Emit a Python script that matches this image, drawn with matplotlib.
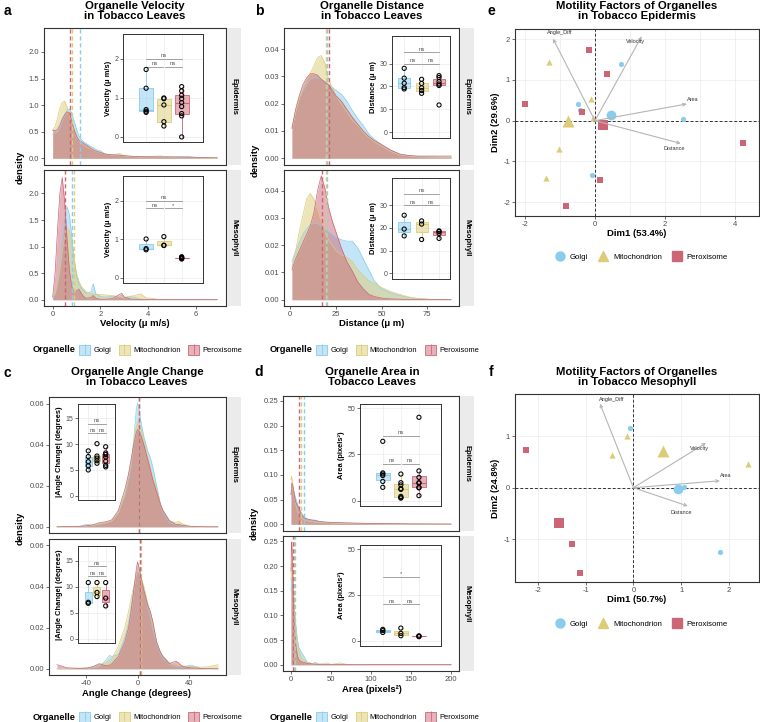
import matplotlib
matplotlib.use("Agg")
import matplotlib.pyplot as plt
import numpy as np
from matplotlib.colors import to_rgba
from matplotlib.lines import Line2D
from matplotlib.patches import Patch

plt.rcParams['font.family'] = ['Liberation Sans', 'DejaVu Sans']
plt.rcParams['axes.unicode_minus'] = False

organelles = ['Golgi', 'Mitochondrion', 'Peroxisome']
colors = ['#88CCEE', '#DDCC77', '#CC6677']

# -- density curves (Golgi, Mitochondrion, Peroxisome) --
vel_x = [0, 0.1, 0.2, 0.3, 0.4, 0.5, 0.6, 0.7, 0.8, 0.9, 1.0, 1.1, 1.2, 1.3, 1.4, 1.6, 1.7,
         1.8, 2.0, 2.2, 2.5, 2.8, 2.9, 3.0, 3.3, 3.6, 3.7, 3.9, 4.5, 5.0, 5.6, 6.0, 6.9]
vel_epi_golgi = [0.45, 0.47, 0.50, 0.58, 0.70, 0.82, 0.90, 0.93, 0.85, 0.70, 0.55, 0.42, 0.35, 0.31, 0.28, 0.22, 0.20,
                 0.17, 0.14, 0.08, 0.06, 0.05, 0.045, 0.04, 0.035, 0.03, 0.03, 0.03, 0.025, 0.025, 0.035, 0.02, 0.0]
vel_epi_mito = [0.52, 0.60, 0.75, 0.95, 1.05, 1.07, 0.97, 0.80, 0.66, 0.53, 0.40, 0.33, 0.29, 0.25, 0.22, 0.17, 0.15,
                0.13, 0.10, 0.08, 0.06, 0.09, 0.07, 0.05, 0.03, 0.025, 0.025, 0.03, 0.045, 0.02, 0.01, 0.005, 0.0]
vel_epi_perox = [0.53, 0.52, 0.54, 0.62, 0.74, 0.82, 0.87, 0.86, 0.70, 0.54, 0.42, 0.34, 0.31, 0.28, 0.25, 0.19, 0.16,
                 0.14, 0.11, 0.08, 0.065, 0.06, 0.055, 0.05, 0.04, 0.03, 0.03, 0.028, 0.025, 0.025, 0.022, 0.018, 0.012]
vel_mes_golgi = [0.03, 0.10, 0.30, 0.60, 1.10, 1.50, 1.75, 1.60, 1.20, 0.75, 0.45, 0.30, 0.22, 0.17, 0.12, 0.15, 0.30,
                 0.12, 0.06, 0.05, 0.06, 0.05, 0.04, 0.03, 0.06, 0.02, 0.01, 0.005, 0.0, 0.0, 0.0, 0.0, 0.0]
vel_mes_mito = [0.05, 0.12, 0.30, 0.55, 0.90, 1.20, 1.35, 1.30, 1.05, 0.75, 0.50, 0.35, 0.25, 0.20, 0.15, 0.12, 0.11,
                0.10, 0.10, 0.09, 0.08, 0.06, 0.05, 0.05, 0.07, 0.10, 0.11, 0.04, 0.005, 0.0, 0.0, 0.0, 0.0]
vel_mes_perox = [0.06, 0.50, 1.30, 2.00, 2.30, 1.85, 1.15, 0.55, 0.25, 0.15, 0.17, 0.20, 0.12, 0.06, 0.03, 0.04, 0.08,
                 0.03, 0.01, 0.01, 0.02, 0.10, 0.12, 0.05, 0.01, 0.005, 0.005, 0.004, 0.003, 0.003, 0.003, 0.003, 0.003]
vel_epi_means = [1.16, 0.80, 0.74]
vel_mes_means = [0.83, 0.89, 0.52]

dist_x = [1, 3, 5, 7, 9, 11, 13, 15, 17, 19, 21, 23, 25, 28, 31, 34, 37, 40, 43, 46, 50, 55, 60, 65, 70, 80, 88]
dist_epi_golgi = [0.011, 0.017, 0.022, 0.025, 0.027, 0.029, 0.0295, 0.0295, 0.029, 0.028, 0.027, 0.026, 0.025, 0.0235,
                  0.021, 0.0175, 0.0145, 0.012, 0.009, 0.007, 0.005, 0.003, 0.0015, 0.001, 0.0006, 0.0004, 0.0]
dist_epi_mito = [0.011, 0.017, 0.022, 0.026, 0.029, 0.031, 0.034, 0.037, 0.0377, 0.035, 0.029, 0.026, 0.023, 0.020,
                 0.017, 0.014, 0.012, 0.0095, 0.0075, 0.006, 0.0045, 0.0025, 0.0012, 0.0008, 0.0005, 0.0004, 0.0004]
dist_epi_perox = [0.011, 0.018, 0.023, 0.027, 0.0295, 0.031, 0.031, 0.0305, 0.029, 0.028, 0.027, 0.025, 0.023, 0.021,
                  0.018, 0.015, 0.0125, 0.010, 0.008, 0.0065, 0.005, 0.003, 0.0015, 0.001, 0.0008, 0.0008, 0.0008]
dist_mes_golgi = [0.014, 0.018, 0.021, 0.024, 0.026, 0.0275, 0.028, 0.028, 0.027, 0.026, 0.025, 0.024, 0.023, 0.022,
                  0.0215, 0.0215, 0.019, 0.015, 0.011, 0.007, 0.004, 0.0025, 0.0015, 0.0008, 0.0004, 0.0, 0.0]
dist_mes_mito = [0.012, 0.018, 0.025, 0.031, 0.037, 0.039, 0.037, 0.033, 0.029, 0.025, 0.022, 0.020, 0.018, 0.0165,
                 0.0155, 0.014, 0.011, 0.009, 0.007, 0.006, 0.0045, 0.003, 0.002, 0.001, 0.0005, 0.0, 0.0]
dist_mes_perox = [0.011, 0.015, 0.018, 0.021, 0.024, 0.027, 0.032, 0.040, 0.0455, 0.041, 0.034, 0.029, 0.025, 0.019,
                  0.014, 0.0105, 0.0065, 0.004, 0.002, 0.0012, 0.0006, 0.0003, 0.0002, 0.0001, 0.0001, 0.0001, 0.0001]
dist_epi_means = [20.2, 19.7, 21.4]
dist_mes_means = [20.3, 19.6, 17.6]

ang_x = [-63, -55, -45, -40, -35, -30, -25, -22, -20, -15, -10, -7, -5, -3, -1, 0, 1, 3, 5, 8, 10, 12, 15, 18,
         20, 25, 30, 32, 35, 40, 42, 45, 50, 55, 63]
ang_epi_golgi = [0, 0, 0.0003, 0.0012, 0.0008, 0.0012, 0.002, 0.0025, 0.003, 0.007, 0.015, 0.023, 0.030, 0.042, 0.057,
                 0.0605, 0.058, 0.050, 0.044, 0.037, 0.034, 0.029, 0.020, 0.011, 0.007, 0.002, 0.001, 0.001, 0.0005,
                 0.0002, 0.0001, 0, 0, 0, 0]
ang_epi_mito = [0, 0, 0.0002, 0.0004, 0.0008, 0.0015, 0.002, 0.0025, 0.003, 0.007, 0.016, 0.025, 0.032, 0.041, 0.049,
                0.051, 0.051, 0.047, 0.042, 0.034, 0.029, 0.024, 0.018, 0.011, 0.008, 0.003, 0.002, 0.0028, 0.0015,
                0.0004, 0.0002, 0.0001, 0, 0, 0]
ang_epi_perox = [0, 0.0002, 0.0003, 0.0005, 0.001, 0.002, 0.0025, 0.003, 0.0035, 0.008, 0.018, 0.026, 0.033, 0.040,
                 0.046, 0.0475, 0.047, 0.044, 0.040, 0.033, 0.028, 0.023, 0.017, 0.011, 0.008, 0.003, 0.0012, 0.0012,
                 0.0008, 0.0004, 0.0003, 0.0002, 0.0001, 0, 0]
ang_mes_golgi = [0, 0, 0, 0.0002, 0.0005, 0.001, 0.004, 0.0065, 0.006, 0.007, 0.015, 0.022, 0.030, 0.038, 0.046,
                 0.048, 0.047, 0.043, 0.038, 0.030, 0.025, 0.019, 0.012, 0.007, 0.005, 0.002, 0.001, 0.001, 0.0008,
                 0.0016, 0.0018, 0.0012, 0.0002, 0, 0]
ang_mes_mito = [0, 0.0002, 0.0004, 0.0006, 0.001, 0.002, 0.003, 0.004, 0.005, 0.011, 0.020, 0.028, 0.034, 0.040,
                0.046, 0.048, 0.047, 0.044, 0.040, 0.032, 0.027, 0.021, 0.013, 0.008, 0.006, 0.003, 0.002, 0.0018,
                0.0015, 0.001, 0.001, 0.001, 0.0008, 0.001, 0.002]
ang_mes_perox = [0.002, 0.0005, 0.0002, 0.0003, 0.001, 0.0025, 0.0015, 0.0018, 0.0025, 0.006, 0.013, 0.020, 0.028,
                 0.038, 0.048, 0.052, 0.050, 0.044, 0.038, 0.031, 0.028, 0.023, 0.013, 0.008, 0.006, 0.0025, 0.0038,
                 0.003, 0.0012, 0.0006, 0.0005, 0.0004, 0.0002, 0.0001, 0]
ang_epi_means = [1.3, 1.3, 1.3]
ang_mes_means = [2.0, 2.6, 1.6]

area_x = [0, 0.5, 1, 2, 3, 4, 5, 6, 8, 10, 12, 15, 18, 20, 25, 28, 30, 32, 35, 40, 44, 46, 50, 60, 62, 66, 70, 80,
          100, 120, 150, 200]
area_epi_golgi = [0.06, 0.065, 0.07, 0.072, 0.07, 0.064, 0.058, 0.052, 0.042, 0.033, 0.026, 0.018, 0.013, 0.011,
                  0.009, 0.009, 0.0085, 0.008, 0.006, 0.005, 0.004, 0.004, 0.0035, 0.003, 0.003, 0.0025, 0.0025,
                  0.002, 0.0015, 0.001, 0.0005, 0.0]
area_epi_mito = [0.09, 0.097, 0.095, 0.085, 0.07, 0.058, 0.048, 0.04, 0.028, 0.02, 0.014, 0.01, 0.008, 0.007, 0.005,
                 0.005, 0.004, 0.004, 0.0035, 0.003, 0.003, 0.003, 0.0025, 0.002, 0.002, 0.002, 0.002, 0.0015, 0.001,
                 0.0005, 0.0003, 0.0]
area_epi_perox = [0.06, 0.075, 0.084, 0.08, 0.072, 0.062, 0.052, 0.045, 0.038, 0.032, 0.024, 0.016, 0.012, 0.011,
                  0.009, 0.008, 0.0075, 0.007, 0.006, 0.005, 0.0045, 0.0045, 0.004, 0.0035, 0.0035, 0.003, 0.003,
                  0.0025, 0.002, 0.0015, 0.001, 0.0008]
area_mes_golgi = [0.15, 0.17, 0.175, 0.17, 0.15, 0.12, 0.10, 0.08, 0.05, 0.035, 0.028, 0.02, 0.012, 0.006, 0.003,
                  0.003, 0.005, 0.004, 0.001, 0.0005, 0, 0, 0, 0, 0, 0, 0, 0, 0, 0, 0, 0]
area_mes_mito = [0.17, 0.2, 0.205, 0.19, 0.16, 0.12, 0.095, 0.075, 0.045, 0.028, 0.018, 0.01, 0.007, 0.005, 0.003,
                 0.002, 0.002, 0.002, 0.002, 0.002, 0.004, 0.003, 0.001, 0.003, 0.004, 0.002, 0.001, 0, 0, 0, 0, 0]
area_mes_perox = [0.19, 0.24, 0.249, 0.2, 0.14, 0.09, 0.06, 0.04, 0.018, 0.01, 0.007, 0.005, 0.004, 0.003, 0.002,
                  0.0015, 0.0015, 0.001, 0.001, 0.001, 0.001, 0.001, 0.001, 0.0008, 0.0008, 0.0008, 0.0007, 0.0007,
                  0.0006, 0.0006, 0.0005, 0.0005]
area_epi_means = [15.8, 12.4, 10.4]
area_mes_means = [5.4, 3.3, 2.0]

# -- per-cell means shown in the inset boxplots --
vel_epi_pts = [[0.63, 0.66, 0.70, 1.25, 1.73], [0.28, 0.39, 0.82, 0.98, 1.00],
               [0.0, 0.54, 0.60, 0.78, 0.88, 0.98, 1.07, 1.18, 1.29]]
vel_mes_pts = [[0.73, 0.76, 1.01], [0.84, 0.85, 1.07], [0.49, 0.51, 0.52, 0.53, 0.55]]
dist_epi_pts = [[18.9, 19.5, 21.4, 23.6, 27.9], [17.0, 18.2, 19.4, 21.3, 23.1], [11.9, 20.4, 21.0, 22.1, 23.9, 24.7]]
dist_mes_pts = [[16.5, 19.5, 25.6], [14.9, 21.7, 23.1], [15.4, 17.6, 18.4, 18.7]]
ang_epi_pts = [[5.0, 5.8, 6.6, 7.6, 8.7], [6.3, 6.8, 7.3, 7.7, 10.1], [5.6, 5.9, 6.7, 7.5, 8.0, 8.3, 9.5]]
ang_mes_pts = [[6.8, 7.0, 10.8], [8.1, 8.9, 10.8], [6.3, 7.8, 10.8]]
area_epi_pts = [[7.2, 10.4, 13.6, 14.4, 15.0, 32.1], [1.4, 1.6, 2.3, 6.1, 6.5, 8.5, 9.7, 14.4],
                [2.7, 6.9, 7.2, 9.5, 9.7, 12.6, 16.1, 45.1]]
area_mes_pts = [[4.5, 5.5, 6.2], [2.7, 4.0, 6.9], [2.2, 2.5, 2.6]]
sig_vel_mes = ['ns', 'ns', '*']
sig_area_mes = ['*', 'ns', 'ns']

# -- PCA scores, group centroids and variable loadings --
var_names = ['Angle_Diff', 'Velocity', 'Area', 'Distance']
pca_epi_x = [[0.74, -0.48, -0.43, 2.52, -0.07], [-1.33, -0.12, -1.03, -1.41, -0.05],
             [-0.16, 0.35, -1.99, -0.37, 4.25, 0.14, -0.84]]
pca_epi_y = [[1.38, 0.40, 0.27, 0.04, -1.33], [1.44, 0.52, -0.69, -1.40, 0.07],
             [1.74, 1.15, 0.42, 0.21, -0.56, -1.46, -2.10]]
pca_epi_cx = [0.46, -0.78, 0.22]
pca_epi_cy = [0.15, 0.00, -0.10]
load_epi_x = [-1.20, 1.34, 2.63, 2.46]
load_epi_y = [2.01, 2.07, 0.41, -0.56]
label_epi_x = [-1.02, 1.17, 2.80, 2.28]
label_epi_y = [2.16, 1.95, 0.53, -0.69]

pca_mes_x = [[-0.07, 1.06, 1.81], [-0.14, -0.44, 2.41], [-2.25, -1.28, -1.11]]
pca_mes_y = [[1.16, 0.01, -1.24], [1.01, 0.64, 0.47], [0.73, -1.10, -1.65]]
pca_mes_cx = [0.93, 0.61, -1.55]
pca_mes_cy = [-0.02, 0.72, -0.68]
load_mes_x = [-0.70, 1.52, 1.81, 1.14]
load_mes_y = [1.63, 0.87, 0.135, -0.355]
label_mes_x = [-0.45, 1.39, 1.94, 1.01]
label_mes_y = [1.72, 0.77, 0.23, -0.48]

W, H = 760, 722
fig = plt.figure(figsize=(W / 100, H / 100), dpi=100)


def px_axes(x0, y0, x1, y1):
    return fig.add_axes([x0 / W, 1 - y1 / H, (x1 - x0) / W, (y1 - y0) / H])


def ftext(x, y, s, **kw):
    fig.text(x / W, 1 - y / H, s, **kw)


def frame(ax, lw=0.8, size=5.5):
    for sp in ax.spines.values():
        sp.set_color('#333333')
        sp.set_linewidth(lw)
    ax.tick_params(colors='#333333', labelcolor='#4D4D4D', labelsize=size, length=2, width=0.5, pad=1.5)


def density_facet(box, grid, curves, means, xlim, ylim, yticks, fmt, strip, xticks=None):
    ax = px_axes(*box)
    for y, c in zip(curves, colors):
        ax.fill_between(grid, y, color=c, alpha=0.5, lw=0)
        ax.plot(grid, y, color=c, lw=0.5)
    for m, c in zip(means, colors):
        ax.axvline(m, color=c, lw=1.0, ls=(0, (3, 2)))
    ax.set_xlim(xlim)
    ax.set_ylim(ylim)
    ax.set_yticks(yticks)
    ax.set_yticklabels([fmt.format(v) for v in yticks])
    if xticks is None:
        ax.set_xticks([])
    else:
        ax.set_xticks(xticks)
    frame(ax)
    st = px_axes(box[2] + 1, box[1], box[2] + 15, box[3])
    st.set_facecolor('#EBEBEB')
    st.set_xticks([])
    st.set_yticks([])
    for sp in st.spines.values():
        sp.set_visible(False)
    st.text(0.5, 0.5, strip, rotation=270, ha='center', va='center', fontsize=5.5,
            fontweight='bold', transform=st.transAxes)
    return ax


def inset_box(box, groups, xlim, ylim, yticks, ylabel, y_top, y_low, labels=('ns', 'ns', 'ns'), width=0.8):
    ax = px_axes(*box)
    ax.set_xlim(xlim)
    ax.set_ylim(ylim)
    for t in yticks:
        ax.axhline(t, color='#EBEBEB', lw=0.5, zorder=0)
    for p in [1, 2, 3]:
        ax.axvline(p, color='#EBEBEB', lw=0.5, zorder=0)
    bp = ax.boxplot(groups, positions=[1, 2, 3], widths=width, patch_artist=True, showfliers=False,
                    showcaps=False, manage_ticks=False)
    for i, c in enumerate(colors):
        bp['boxes'][i].set_facecolor(to_rgba(c, 0.5))
        bp['boxes'][i].set_edgecolor(c)
        bp['boxes'][i].set_linewidth(0.6)
        bp['medians'][i].set_color(c)
        bp['medians'][i].set_linewidth(0.8)
        for w in bp['whiskers'][2 * i:2 * i + 2]:
            w.set_color(c)
            w.set_linewidth(0.6)
        ax.scatter(np.full(len(groups[i]), i + 1), groups[i], s=9, facecolors='none',
                   edgecolors='black', linewidths=0.75, zorder=3)
    span = ylim[1] - ylim[0]
    for (x1, x2), y, lab in zip([(1, 3), (1, 1.96), (2.04, 3)], [y_top, y_low, y_low], labels):
        ax.plot([x1, x2], [y, y], color='#7F7F7F', lw=0.5)
        ax.text((x1 + x2) / 2, y + span * 0.005, lab, ha='center', va='bottom', fontsize=4.3, color='#595959')
    ax.set_xticks([])
    ax.set_yticks(yticks)
    ax.set_ylabel(ylabel, fontsize=5.4, fontweight='bold', labelpad=1.5)
    frame(ax, lw=0.7, size=5)
    return ax


def density_legend(x, y):
    ftext(x, y, 'Organelle', fontsize=6.7, fontweight='bold', va='center')
    handles = [(Patch(facecolor=to_rgba(c, 0.5), edgecolor=c, lw=0.6),
                Line2D([], [], color=c, marker='|', ls='none', ms=7, mew=0.6)) for c in colors]
    fig.legend(handles, organelles, loc='center left', bbox_to_anchor=((x + 46) / W, 1 - y / H), ncol=3,
               frameon=False, fontsize=5.4, handlelength=1.5, handleheight=1.5, handletextpad=0.4,
               columnspacing=1.0, borderpad=0, borderaxespad=0)


def pca_panel(box, xlim, ylim, xticks, yticks, xgrid, ygrid, px, py, cx, cy, lx, ly, tx, ty):
    ax = px_axes(*box)
    for g in xgrid:
        ax.axvline(g, color='#EBEBEB', lw=0.5, zorder=0)
    for g in ygrid:
        ax.axhline(g, color='#EBEBEB', lw=0.5, zorder=0)
    ax.axhline(0, color='#333333', lw=0.7, ls=(0, (3, 2)), zorder=1)
    ax.axvline(0, color='#333333', lw=0.7, ls=(0, (3, 2)), zorder=1)
    markers = ['o', '^', 's']
    small = [14, 20, 13]
    big = [50, 75, 45]
    for i, c in enumerate(colors):
        ax.scatter(px[i], py[i], s=small[i], marker=markers[i], color=c, lw=0, zorder=2)
        ax.scatter(cx[i], cy[i], s=big[i], marker=markers[i], color=c, lw=0, zorder=2)
    for k, name in enumerate(var_names):
        ax.annotate('', xy=(lx[k], ly[k]), xytext=(0, 0),
                    arrowprops=dict(arrowstyle='->', color='#B5B5B5', lw=0.8, shrinkA=0, shrinkB=0,
                                    mutation_scale=5), zorder=3)
        ax.text(tx[k], ty[k], name, fontsize=4, color='#333333', ha='center', va='center', zorder=4)
    ax.set_xlim(xlim)
    ax.set_ylim(ylim)
    ax.set_xticks(xticks)
    ax.set_yticks(yticks)
    frame(ax)
    return ax


def pca_legend(y):
    markers = ['o', '^', 's']
    handles = [Line2D([], [], marker=m, color=c, ls='none', ms=6.5) for m, c in zip(markers, colors)]
    fig.legend(handles, organelles, loc='center', bbox_to_anchor=(640 / W, 1 - y / H), ncol=3, frameon=False,
               fontsize=5.6, handletextpad=0.3, columnspacing=0.9, borderpad=0, borderaxespad=0)


# -- panel letters and titles --
for lx_, ly_, letter in [(7, 11, 'a'), (259, 11, 'b'), (7, 373, 'c'), (259, 372, 'd'), (491, 11, 'e'),
                         (491, 372, 'f')]:
    ftext(lx_, ly_, letter, fontsize=10, fontweight='bold', ha='center', va='center')
for cx_, cy_, title in [(135, 11, 'Organelle Velocity\nin Tobacco Leaves'),
                        (372, 11, 'Organelle Distance\nin Tobacco Leaves'),
                        (137, 377, 'Organelle Angle Change\nin Tobacco Leaves'),
                        (372, 377, 'Organelle Area in\nTobacco Leaves'),
                        (637, 11, 'Motility Factors of Organelles\nin Tobacco Epidermis'),
                        (637, 377, 'Motility Factors of Organelles\nin Tobacco Mesophyll')]:
    ftext(cx_, cy_, title, fontsize=8.2, fontweight='bold', ha='center', va='center', linespacing=1.0)

# -- panel a --
density_facet((44, 28, 226, 164.5), vel_x, [vel_epi_golgi, vel_epi_mito, vel_epi_perox], vel_epi_means,
              (-0.365, 7.27), (-0.117, 2.45), [0, 0.5, 1.0, 1.5, 2.0], '{:.1f}', 'Epidermis')
density_facet((44, 169.5, 226, 306), vel_x, [vel_mes_golgi, vel_mes_mito, vel_mes_perox], vel_mes_means,
              (-0.365, 7.27), (-0.117, 2.45), [0, 0.5, 1.0, 1.5, 2.0], '{:.1f}', 'Mesophyll', [0, 2, 4, 6])
inset_box((123, 34, 203, 142), vel_epi_pts, (-0.3, 4.2), (-0.13, 2.64), [0, 1, 2], 'Velocity (μ m/s)', 2.0, 1.8)
inset_box((123, 176, 203, 283), vel_mes_pts, (-0.3, 4.2), (-0.13, 2.64), [0, 1, 2], 'Velocity (μ m/s)', 2.0, 1.8,
          sig_vel_mes)
ftext(135, 324, 'Velocity (μ m/s)', fontsize=6.8, fontweight='bold', ha='center', va='center')
ftext(20, 167, 'density', fontsize=6.8, fontweight='bold', ha='center', va='center', rotation=90)
density_legend(33, 350)

# -- panel b --
density_facet((284, 28, 459, 164.5), dist_x, [dist_epi_golgi, dist_epi_mito, dist_epi_perox], dist_epi_means,
              (-3.35, 92.35), (-0.0023, 0.0478), [0, 0.01, 0.02, 0.03, 0.04], '{:.2f}', 'Epidermis')
density_facet((284, 169.5, 459, 306), dist_x, [dist_mes_golgi, dist_mes_mito, dist_mes_perox], dist_mes_means,
              (-3.35, 92.35), (-0.0023, 0.0478), [0, 0.01, 0.02, 0.03, 0.04], '{:.2f}', 'Mesophyll',
              [0, 25, 50, 75])
inset_box((392, 36, 450, 138), dist_epi_pts, (0.3, 3.63), (-2.5, 42), [0, 10, 20, 30], 'Distance (μ m)', 35, 30,
          width=0.7)
inset_box((392, 178, 450, 279), dist_mes_pts, (0.3, 3.63), (-2.5, 42), [0, 10, 20, 30], 'Distance (μ m)', 35, 30,
          width=0.7)
ftext(372, 323, 'Distance (μ m)', fontsize=6.8, fontweight='bold', ha='center', va='center')
ftext(255, 160, 'density', fontsize=6.8, fontweight='bold', ha='center', va='center', rotation=90)
density_legend(270, 350)

# -- panel c --
density_facet((49, 397, 226, 533), ang_x, [ang_epi_golgi, ang_epi_mito, ang_epi_perox], ang_epi_means,
              (-69.3, 69.3), (-0.003, 0.0634), [0, 0.02, 0.04, 0.06], '{:.2f}', 'Epidermis')
density_facet((49, 538.5, 226, 675), ang_x, [ang_mes_golgi, ang_mes_mito, ang_mes_perox], ang_mes_means,
              (-69.3, 69.3), (-0.003, 0.0634), [0, 0.02, 0.04, 0.06], '{:.2f}', 'Mesophyll', [-40, 0, 40])
inset_box((78, 404, 115, 500), ang_epi_pts, (-0.18, 4.07), (-0.83, 17.8), [0, 5, 10, 15],
          '|Angle Change| (degrees)', 14.0, 12.1)
inset_box((78, 546, 115, 643), ang_mes_pts, (-0.18, 4.07), (-0.85, 17.85), [0, 5, 10, 15],
          '|Angle Change| (degrees)', 13.9, 12.0)
ftext(137, 693, 'Angle Change (degrees)', fontsize=6.8, fontweight='bold', ha='center', va='center')
ftext(20, 528, 'density', fontsize=6.8, fontweight='bold', ha='center', va='center', rotation=90)
density_legend(33, 717)

# -- panel d --
density_facet((283, 395.5, 459, 530.5), area_x, [area_epi_golgi, area_epi_mito, area_epi_perox], area_epi_means,
              (-10, 210), (-0.0125, 0.261), [0, 0.05, 0.10, 0.15, 0.20, 0.25], '{:.2f}', 'Epidermis')
density_facet((283, 536, 459, 671), area_x, [area_mes_golgi, area_mes_mito, area_mes_perox], area_mes_means,
              (-10, 210), (-0.0125, 0.261), [0, 0.05, 0.10, 0.15, 0.20, 0.25], '{:.2f}', 'Mesophyll',
              [0, 50, 100, 150, 200])
inset_box((360, 404, 441, 506), area_epi_pts, (-0.26, 4.22), (-2.9, 52.3), [0, 25, 50], 'Area (pixels²)', 35, 20)
inset_box((360, 545, 441, 646), area_mes_pts, (-0.26, 4.22), (-2.9, 52.3), [0, 25, 50], 'Area (pixels²)', 35, 20,
          sig_area_mes)
ftext(372, 690, 'Area (pixels²)', fontsize=6.8, fontweight='bold', ha='center', va='center')
ftext(254, 523, 'density', fontsize=6.8, fontweight='bold', ha='center', va='center', rotation=90)
density_legend(270, 717)

# -- panel e --
pca_panel((515, 29, 759, 216), (-2.29, 4.70), (-2.34, 2.25), [-2, 0, 2, 4], [-2, -1, 0, 1, 2],
          [-2, -1, 0, 1, 2, 3, 4], [-2, -1, 0, 1, 2], pca_epi_x, pca_epi_y, pca_epi_cx, pca_epi_cy,
          load_epi_x, load_epi_y, label_epi_x, label_epi_y)
ftext(637, 233, 'Dim1 (53.4%)', fontsize=6.8, fontweight='bold', ha='center', va='center')
ftext(495, 122, 'Dim2 (29.6%)', fontsize=6.8, fontweight='bold', ha='center', va='center', rotation=90)
pca_legend(257)

# -- panel f --
pca_panel((515, 394, 759, 582), (-2.48, 2.63), (-1.83, 1.82), [-2, -1, 0, 1, 2], [-1, 0, 1],
          [-2, -1, 0, 1, 2], [-1, 0, 1], pca_mes_x, pca_mes_y, pca_mes_cx, pca_mes_cy,
          load_mes_x, load_mes_y, label_mes_x, label_mes_y)
ftext(637, 599, 'Dim1 (50.7%)', fontsize=6.8, fontweight='bold', ha='center', va='center')
ftext(495, 488, 'Dim2 (24.8%)', fontsize=6.8, fontweight='bold', ha='center', va='center', rotation=90)
pca_legend(624)

fig.savefig('out.png', dpi=100)
